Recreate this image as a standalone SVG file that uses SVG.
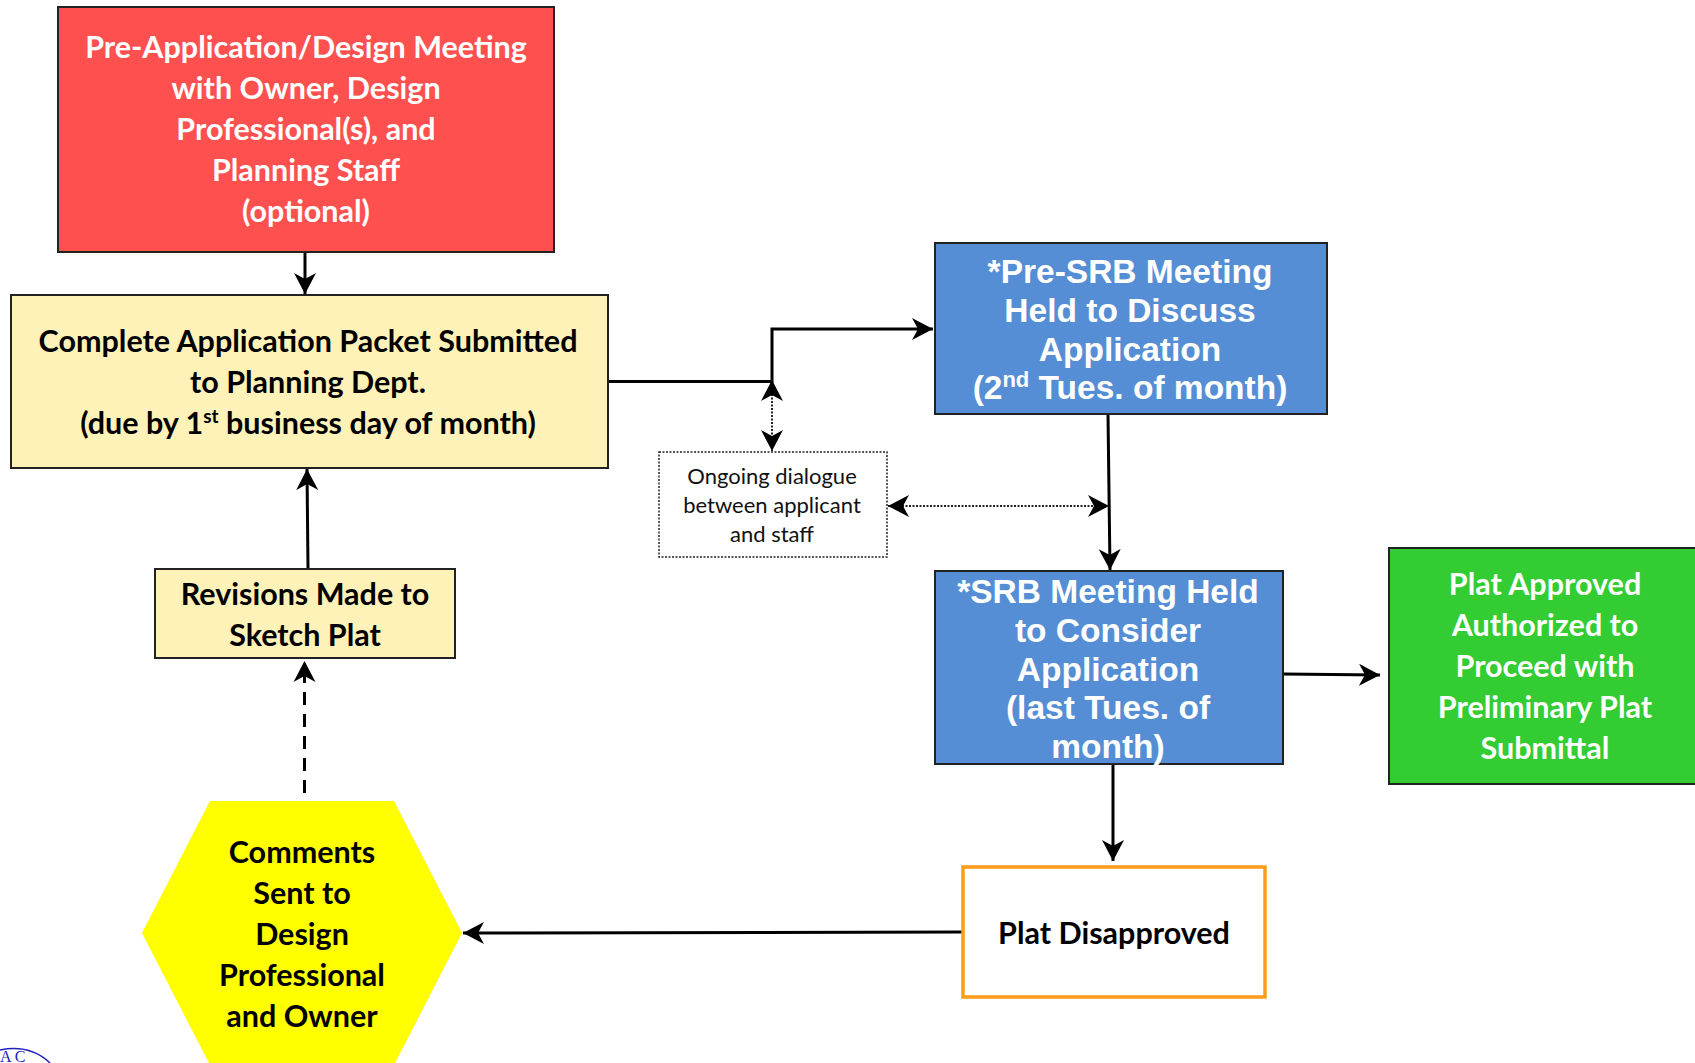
<svg xmlns="http://www.w3.org/2000/svg" width="1695" height="1063" viewBox="0 0 1695 1063">
<style>
.c{font-family:"Lato","Carlito","Liberation Sans",sans-serif;font-weight:700;font-size:30.5px;text-anchor:middle;fill:#000}
.w{fill:#fff}
.a{font-family:"Liberation Sans",Arial,sans-serif;font-weight:700;font-size:33.5px;text-anchor:middle;fill:#fff}
.d{font-family:"Lato","Carlito","Liberation Sans",sans-serif;font-weight:400;font-size:22px;text-anchor:middle;fill:#111}
.s{stroke:#222;stroke-width:2}
.l{fill:none;stroke:#000;stroke-width:3}
.ds{fill:none;stroke:#222;stroke-width:2;stroke-dasharray:2 1.5}
</style>
<defs>
<marker id="h" markerUnits="userSpaceOnUse" markerWidth="24" markerHeight="26" refX="21" refY="12" orient="auto-start-reverse" viewBox="0 0 24 26">
<path d="M0,1 L21,12 L0,23 L6,12 Z" fill="#000"/>
</marker>
</defs>
<rect width="1695" height="1063" fill="#fff"/>
<g id="connectors">
<path class="l" d="M305,252V294" marker-end="url(#h)"/>
<path class="l" d="M608,381.5H772V329H933" marker-end="url(#h)"/>
<path class="ds" d="M772,380V451" marker-start="url(#h)" marker-end="url(#h)"/>
<path class="ds" d="M888,506H1109" marker-start="url(#h)" marker-end="url(#h)"/>
<path class="l" d="M1108,414L1110,570" marker-end="url(#h)"/>
<path class="l" d="M1283,674L1380,675" marker-end="url(#h)"/>
<path class="l" d="M1113,764V861" marker-end="url(#h)"/>
<path class="l" d="M962,932L463,933" marker-end="url(#h)"/>
<path class="l" d="M308,568L307,469" marker-end="url(#h)"/>
<path class="l" stroke-dasharray="13 9" d="M304.500,793V661" marker-end="url(#h)"/>
</g>
<g id="pre-application">
<rect class="s" x="58" y="7" width="496" height="245" fill="#ff5050"/>
<text class="c w" x="306" y="58">Pre-Application/Design Meeting</text>
<text class="c w" x="306" y="99">with Owner, Design</text>
<text class="c w" x="306" y="140">Professional(s), and</text>
<text class="c w" x="306" y="181">Planning Staff</text>
<text class="c w" x="306" y="222">(optional)</text>
</g>
<g id="complete-application">
<rect class="s" x="11" y="295" width="597" height="173" fill="#fff2b8"/>
<text class="c" x="308" y="352">Complete Application Packet Submitted</text>
<text class="c" x="308" y="393">to Planning Dept.</text>
<text class="c" x="308" y="434">(due by 1<tspan font-size="19" dy="-11">st</tspan><tspan dy="11"> business day of month)</tspan></text>
</g>
<g id="pre-srb">
<rect class="s" x="935" y="243" width="392" height="171" fill="#558ed5"/>
<text class="a" x="1130" y="283">*Pre-SRB Meeting</text>
<text class="a" x="1130" y="322">Held to Discuss</text>
<text class="a" x="1130" y="361">Application</text>
<text class="a" x="1130" y="399">(2<tspan font-size="22" dy="-12">nd</tspan><tspan dy="12"> Tues. of month)</tspan></text>
</g>
<g id="dialogue">
<rect x="659" y="452" width="228" height="105" fill="#fff" stroke="#222" stroke-width="1.500" stroke-dasharray="2 1.500"/>
<text class="d" x="772" y="484">Ongoing dialogue</text>
<text class="d" x="772" y="513">between applicant</text>
<text class="d" x="772" y="542">and staff</text>
</g>
<g id="srb">
<rect class="s" x="935" y="571" width="348" height="193" fill="#558ed5"/>
<text class="a" x="1108" y="603">*SRB Meeting Held</text>
<text class="a" x="1108" y="642">to Consider</text>
<text class="a" x="1108" y="681">Application</text>
<text class="a" x="1108" y="719">(last Tues. of</text>
<text class="a" x="1108" y="758">month)</text>
</g>
<g id="approved">
<rect class="s" x="1389" y="548" width="320" height="236" fill="#33cc33"/>
<text class="c w" x="1545" y="595">Plat Approved</text>
<text class="c w" x="1545" y="636">Authorized to</text>
<text class="c w" x="1545" y="677">Proceed with</text>
<text class="c w" x="1545" y="718">Preliminary Plat</text>
<text class="c w" x="1545" y="759">Submittal</text>
</g>
<g id="disapproved">
<rect x="963" y="867" width="302" height="130" fill="#fff" stroke="#ff9c1a" stroke-width="3.500"/>
<text class="c" x="1114" y="944">Plat Disapproved</text>
</g>
<g id="revisions">
<rect class="s" x="155" y="569" width="300" height="89" fill="#fff2b8"/>
<text class="c" x="305" y="605">Revisions Made to</text>
<text class="c" x="305" y="646">Sketch Plat</text>
</g>
<g id="comments">
<polygon points="142,933 210,801 394,801 462,933 394,1065 210,1065" fill="#ffff00"/>
<text class="c" x="302" y="863">Comments</text>
<text class="c" x="302" y="904">Sent to</text>
<text class="c" x="302" y="945">Design</text>
<text class="c" x="302" y="986">Professional</text>
<text class="c" x="302" y="1027">and Owner</text>
</g>
<g id="seal">
<path d="M0,1050 Q30,1044 50,1063" fill="none" stroke="#2222bb" stroke-width="1.500"/>
<text x="0" y="1062" font-family="Liberation Serif,serif" font-size="16" fill="#2222bb">A C</text>
</g>
</svg>
